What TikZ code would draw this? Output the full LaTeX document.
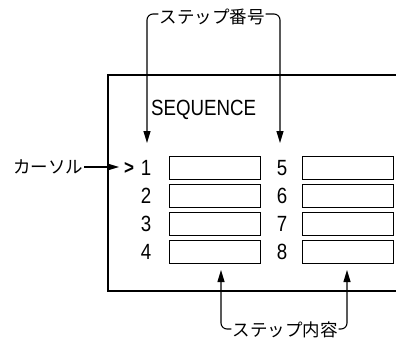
\documentclass[tikz,border=0pt]{standalone}
\usepackage{fontspec}
\setmainfont{Liberation Sans}
\newfontfamily\jpfont{Noto Sans CJK JP}
\newfontfamily\seqfont[FakeStretch=0.85]{Liberation Sans}
\usetikzlibrary{arrows.meta}
\tikzset{
  jp/.style={font=\jpfont\fontsize{17.5}{17.5}\selectfont, inner sep=0pt},
  lbl/.style={font=\seqfont\fontsize{22}{22}\selectfont, inner sep=0pt},
  digit/.style={font=\seqfont\fontsize{22}{22}\selectfont, inner sep=0pt},
  slot/.style={draw, line width=0.9pt, minimum width=91pt, minimum height=23pt, inner sep=0pt},
  frame/.style={line width=2.2pt},
  pointer/.style={line width=1.1pt, -{Triangle[length=12pt,width=7pt]}, rounded corners=6pt}
}
\begin{document}
\begin{tikzpicture}[x=1pt,y=-1pt]
\useasboundingbox (0,0) rectangle (396,340);
% outer display frame (open to the right)
\coordinate (ftr) at (396,75);
\coordinate (ftl) at (108,75);
\coordinate (fbl) at (108,291);
\coordinate (fbr) at (396,291);
\draw[frame] (ftr) -- (ftl) -- (fbl) -- (fbr);
% title
\node[lbl, anchor=west] (seq) at (151,110) {SEQUENCE};
% rows
\foreach \i/\y in {1/168,2/196,3/224,4/252}{
  \node[digit] (n\i) at (146,\y) {\i};
  \node[slot] (s\i) at (214.5,\y) {};
}
\foreach \i/\y in {5/168,6/196,7/224,8/252}{
  \node[digit] (n\i) at (282,\y) {\i};
  \node[slot] (s\i) at (348,\y) {};
}
\node[digit, font=\seqfont\bfseries\fontsize{20}{20}\selectfont] (cursym) at (129,168) {>};
% cursor label
\node[jp, anchor=west] (cur) at (13,167) {カーソル};
\coordinate (curtip) at (119,167);
\draw[line width=1.1pt, -{Triangle[length=12pt,width=7pt]}] ([xshift=1pt]cur.east) -- (curtip);
% step number label
\node[jp] (top) at (212,17) {ステップ番号};
\coordinate (a1) at (147,143);
\coordinate (a5) at (280,143);
\draw[pointer] ([xshift=-1pt,yshift=3pt]top.west) -| (a1);
\draw[pointer] ([xshift=1pt,yshift=3pt]top.east) -| (a5);
% step content label
\node[jp] (bot) at (285,330) {ステップ内容};
\coordinate (b1) at (221,270);
\coordinate (b5) at (347,270);
\draw[pointer] ([xshift=-1pt,yshift=1pt]bot.west) -| (b1);
\draw[pointer] ([xshift=1pt,yshift=1pt]bot.east) -| (b5);
\end{tikzpicture}
\end{document}
